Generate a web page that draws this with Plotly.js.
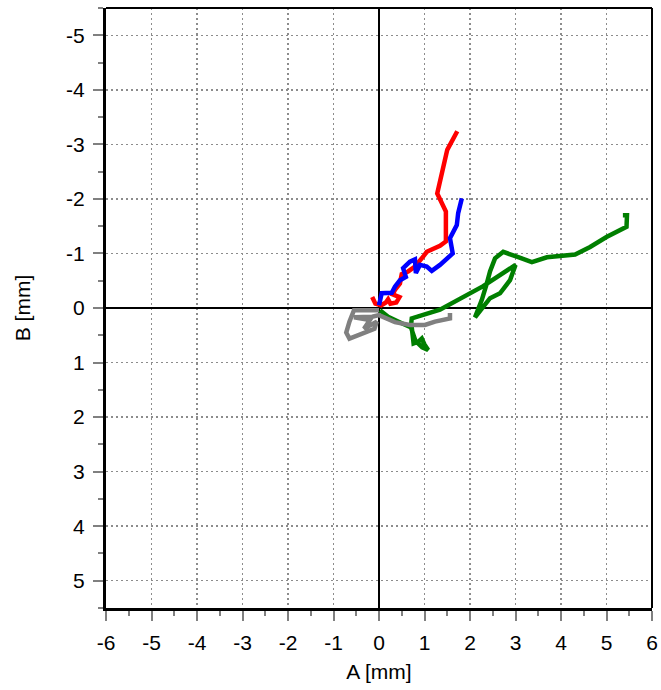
<!DOCTYPE html>
<html>
<head>
<meta charset="utf-8">
<script src="https://cdn.plot.ly/plotly-3.0.1.min.js"></script>
<style>
html,body{margin:0;padding:0;background:#fff;}
#chart{width:661px;height:690px;}
</style>
</head>
<body>
<div id="chart"></div>
<script>
// Series data (A [mm], B [mm])
var redA  = [-0.15, -0.08, 0.05, 0.15, 0.20, 0.25, 0.38, 0.45, 0.30, 0.35, 0.46, 0.50, 0.64, 0.79, 0.97, 1.05, 1.34, 1.47, 1.47, 1.28, 1.50, 1.72];
var redB  = [-0.20, -0.08, -0.05, -0.10, -0.16, -0.08, -0.10, -0.20, -0.25, -0.33, -0.45, -0.62, -0.67, -0.76, -0.94, -1.03, -1.14, -1.22, -1.77, -2.10, -2.90, -3.24];

var blueA = [0.00, 0.01, 0.06, 0.28, 0.35, 0.46, 0.59, 0.53, 0.68, 0.79, 0.81, 0.90, 1.05, 1.16, 1.34, 1.62, 1.56, 1.71, 1.74, 1.82];
var blueB = [-0.05, -0.10, -0.27, -0.28, -0.39, -0.51, -0.57, -0.73, -0.85, -0.89, -0.64, -0.79, -0.76, -0.68, -0.79, -1.00, -1.28, -1.52, -1.74, -2.01];

var greenA = [0.02, 0.20, 0.50, 0.72, 0.74, 0.76, 0.86, 0.94, 1.00, 1.08, 0.95, 0.80, 0.70, 0.72, 1.34, 2.29, 3.00, 2.88, 2.66, 2.44, 2.11, 2.26, 2.37, 2.44, 2.55, 2.73, 3.03, 3.36, 3.69, 4.31, 4.64, 5.00, 5.44, 5.45, 5.36];
var greenB = [0.04, 0.16, 0.28, 0.36, 0.50, 0.65, 0.62, 0.56, 0.67, 0.77, 0.72, 0.60, 0.35, 0.19, 0.03, -0.40, -0.79, -0.51, -0.27, -0.18, 0.17, -0.15, -0.45, -0.67, -0.91, -1.03, -0.94, -0.84, -0.93, -0.98, -1.12, -1.30, -1.49, -1.70, -1.70];

var grayA = [0.00, -0.55, -0.65, -0.72, -0.65, -0.45, -0.30, -0.10, -0.05, -0.33, -0.20, -0.55, -0.15, 0.00, 0.35, 0.68, 1.01, 1.23, 1.56, 1.56];
var grayB = [0.04, 0.04, 0.25, 0.45, 0.56, 0.50, 0.45, 0.38, 0.25, 0.38, 0.22, 0.17, 0.16, 0.13, 0.26, 0.31, 0.31, 0.25, 0.19, 0.09];

// Tick labels
var xTickVals = [-6, -5, -4, -3, -2, -1, 0, 1, 2, 3, 4, 5, 6];
var xTickText = ["-6", "-5", "-4", "-3", "-2", "-1", "0", "1", "2", "3", "4", "5", "6"];
var yTickVals = [-5, -4, -3, -2, -1, 0, 1, 2, 3, 4, 5];
var yTickText = ["-5", "-4", "-3", "-2", "-1", "0", "1", "2", "3", "4", "5"];

function tr(x, y, color) {
  return {x: x, y: y, type: 'scatter', mode: 'lines',
          line: {color: color, width: 4.5, shape: 'linear'},
          hoverinfo: 'skip', showlegend: false};
}

var data = [
  tr(redA, redB, '#ff0000'),
  tr(blueA, blueB, '#0000ff'),
  tr(greenA, greenB, '#007f00'),
  tr(grayA, grayB, '#808080')
];

var fontFam = '"Liberation Sans", Arial, sans-serif';

var layout = {
  width: 661, height: 690,
  margin: {l: 106, r: 9, t: 8, b: 82, pad: 0},
  paper_bgcolor: '#ffffff', plot_bgcolor: '#ffffff',
  font: {family: fontFam, size: 21, color: '#000'},
  xaxis: {
    range: [-6, 6], fixedrange: true,
    tickmode: 'array', tickvals: xTickVals, ticktext: xTickText,
    ticks: 'outside', ticklen: 10, tickwidth: 2, tickcolor: '#808080',
    ticklabelstandoff: 4,
    minor: {ticks: 'outside', ticklen: 5, tickwidth: 2, tickcolor: '#808080', dtick: 0.5, tick0: 0, showgrid: false},
    showgrid: true, gridcolor: '#8c8c8c', gridwidth: 1.5, griddash: '2px,3px',
    zeroline: true, zerolinecolor: '#000', zerolinewidth: 2,
    showline: true, linecolor: '#000', linewidth: 3,
    title: {text: 'A [mm]', font: {family: fontFam, size: 21, color: '#000'}, standoff: 12},
    tickfont: {family: fontFam, size: 21, color: '#000'}
  },
  yaxis: {
    range: [5.5, -5.5], fixedrange: true,
    tickmode: 'array', tickvals: yTickVals, ticktext: yTickText,
    ticks: 'outside', ticklen: 10, tickwidth: 2, tickcolor: '#808080',
    ticklabelstandoff: 4,
    minor: {ticks: 'outside', ticklen: 5, tickwidth: 2, tickcolor: '#808080', dtick: 0.5, tick0: 0, showgrid: false},
    showgrid: true, gridcolor: '#8c8c8c', gridwidth: 1.5, griddash: '2px,3px',
    zeroline: true, zerolinecolor: '#000', zerolinewidth: 2,
    showline: true, linecolor: '#000', linewidth: 3,
    title: {text: 'B [mm]', font: {family: fontFam, size: 21, color: '#000'}, standoff: 30},
    tickfont: {family: fontFam, size: 21, color: '#000'}
  },
  shapes: [
    {type: 'line', xref: 'paper', yref: 'paper', x0: 0, x1: 1, y0: 1, y1: 1, line: {color: '#000', width: 2}},
    {type: 'line', xref: 'paper', yref: 'paper', x0: 1, x1: 1, y0: 0, y1: 1, line: {color: '#000', width: 2}}
  ]
};

Plotly.newPlot('chart', data, layout, {staticPlot: true, displayModeBar: false});
</script>
</body>
</html>
